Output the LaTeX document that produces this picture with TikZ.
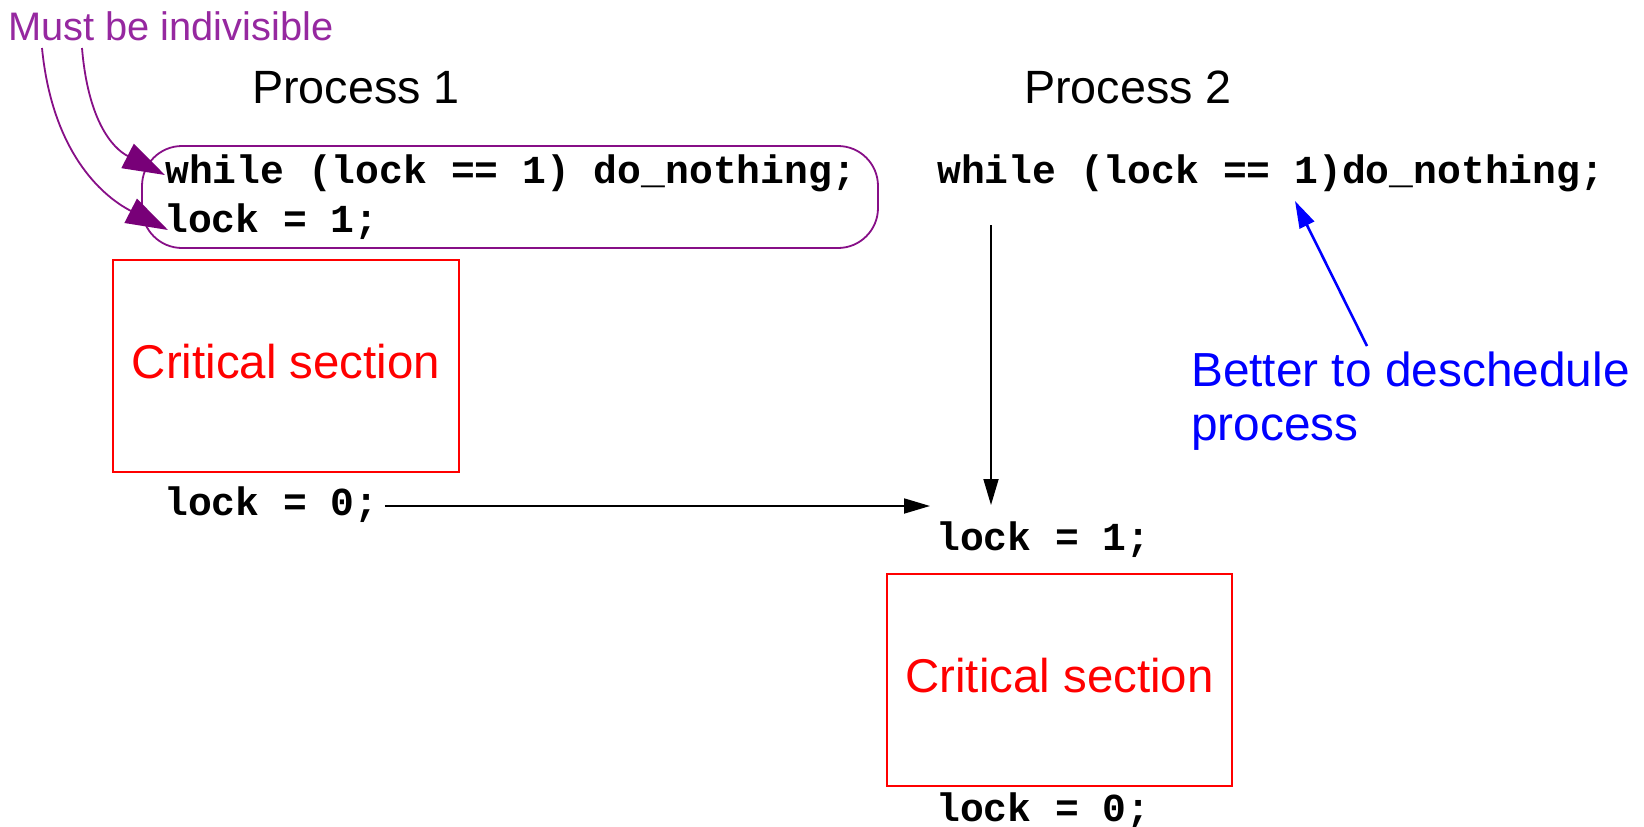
\documentclass[tikz,border=0pt]{standalone}
\usepackage{fontspec}
\setmainfont{Liberation Sans}
\newfontfamily\codefont{Liberation Mono}
\usetikzlibrary{arrows.meta}
\definecolor{lblpurple}{RGB}{150,40,160}
\definecolor{linepurple}{RGB}{135,15,135}
\definecolor{headpurple}{RGB}{120,0,120}
\tikzset{
  code/.style={anchor=base west, inner sep=0pt, font=\codefont\bfseries\fontsize{39.7}{46}\selectfont},
  title/.style={anchor=base west, inner sep=0pt, font=\fontsize{46.7}{54}\selectfont},
  csbox/.style={draw=red, line width=2.2pt, text=red, inner sep=0pt, text depth=10pt, font=\fontsize{47.4}{54}\selectfont},
  note/.style={anchor=base west, inner sep=0pt, text=blue, font=\fontsize{47.8}{54}\selectfont},
  parr/.style={draw=linepurple, line width=1.8pt, -{Triangle[length=42pt,width=27pt,fill=headpurple,color=headpurple]}},
  barr/.style={draw=black, line width=1.8pt, -{Triangle[length=26pt,width=15pt]}},
  bluearr/.style={draw=blue, line width=2.6pt, -{Triangle[length=27pt,width=16pt]}}
}
\begin{document}
\begin{tikzpicture}[x=1pt,y=-1pt]
\fill[white] (0,0) rectangle (1644,827);
\useasboundingbox (0,0) rectangle (1644,827);

% labels
\node[anchor=base west, inner sep=0pt, text=lblpurple, font=\fontsize{39.8}{46}\selectfont] (must) at (8,40) {Must be indivisible};
\node[title] (p1) at (252,103) {Process 1};
\node[title] (p2) at (1024,103) {Process 2};

% process 1 code
\node[code] (w1) at (165,183) {while (lock == 1) do\_nothing;};
\node[code] (l1) at (164,232) {lock = 1;};
\node[draw=linepurple, line width=1.8pt, rounded corners=40pt, minimum width=736pt, minimum height=102pt, inner sep=0pt] (atomic) at (510,197) {};
\node[csbox, minimum width=346pt, minimum height=212pt] (cs1) at (286,366) {Critical section};
\node[code] (l0a) at (164,515) {lock = 0;};

% process 2 code
\node[code] (w2) at (937,183) {while (lock == 1)do\_nothing;};
\node[code] (l1b) at (936,550) {lock = 1;};
\node[csbox, minimum width=345pt, minimum height=212pt] (cs2) at (1059.5,680) {Critical section};
\node[code] (l0b) at (936,821) {lock = 0;};

% note
\node[note] (better) at (1191,386) {Better to deschedule};
\node[note] (better2) at (1191,440) {process};

% coordinates
\coordinate (ms1) at (42,48);
\coordinate (ms2) at (82,48);
\coordinate (tipw) at (165,175);
\coordinate (tipl) at (168,230);
\coordinate (vtop) at (991,225);
\coordinate (vend) at (991,505);
\coordinate (hend) at (930,506);
\coordinate (bstart) at (1367,346);
\coordinate (btip) at (1295,201);

% connectors
\draw[parr] (ms1) .. controls (52,150) and (100,195) .. (tipl);
\draw[parr] (ms2) .. controls (88,120) and (112,148) .. (tipw);
\draw[barr] (vtop) -- (vend);
\draw[barr] ([xshift=6pt, yshift=9pt]l0a.base east) -- (hend);
\draw[bluearr] (bstart) -- (btip);
\end{tikzpicture}
\end{document}
